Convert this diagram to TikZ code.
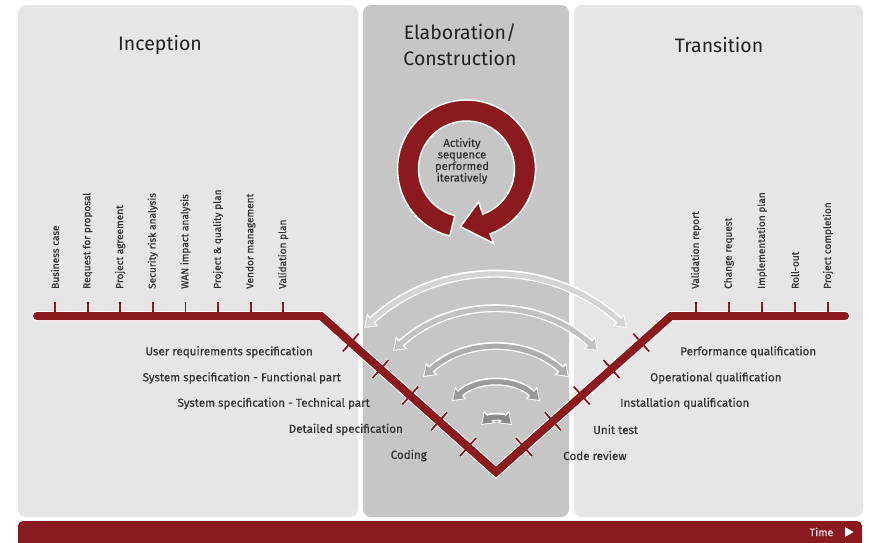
\documentclass[tikz,border=0pt]{standalone}
\usepackage{fontspec}
\setmainfont{Fira Sans}[UprightFeatures={FakeBold=0.4}]
\newfontfamily\titlefont{Fira Sans}
\usetikzlibrary{arrows.meta,calc}
\definecolor{vred}{HTML}{8B1A1E}
\definecolor{panelc}{HTML}{E6E6E6}
\definecolor{midc}{HTML}{C6C6C6}
\definecolor{txt}{HTML}{333333}
\definecolor{titlec}{HTML}{222222}
\definecolor{timec}{HTML}{F2DADA}
\definecolor{arcA}{HTML}{D4D4D4}
\definecolor{arcB}{HTML}{C2C2C2}
\definecolor{arcC}{HTML}{AEAEAE}
\definecolor{arcD}{HTML}{999999}
\definecolor{arcE}{HTML}{8A8A8A}
\begin{document}
\begin{tikzpicture}[x=1pt,y=-1pt,
  panel/.style={fill=panelc, rounded corners=8pt},
  title/.style={text=titlec, font=\titlefont\fontsize{19.5}{26}\selectfont, align=center, inner sep=0pt},
  vlab/.style={text=txt, font=\fontsize{10.1}{11}\selectfont, rotate=90, anchor=west, inner sep=0pt},
  llab/.style={text=txt, font=\fontsize{11.6}{12}\selectfont, anchor=east, inner sep=0pt},
  rlab/.style={text=txt, font=\fontsize{11.6}{12}\selectfont, anchor=west, inner sep=0pt},
  tickw/.style={white, line width=3.5pt},
  tickr/.style={vred, line width=1.8pt},
  arcout/.style={white, line width=8pt, {Triangle[length=12pt,width=16pt]}-{Triangle[length=12pt,width=16pt]}},
  arcin/.style={line width=5pt, shorten <=1.6pt, shorten >=1.6pt, {Triangle[length=9pt,width=12pt]}-{Triangle[length=9pt,width=12pt]}}
]
\clip (0,0) rectangle (869,542);
\fill[white] (0,0) rectangle (869,542);
% panels
\fill[panel] (18,5) rectangle (358,517);
\fill[panel, fill=midc] (363,5) rectangle (569,517);
\fill[panel] (574,5) rectangle (863,517);
% time bar
\fill[vred, rounded corners=5pt] (18,521) rectangle (862,560);
\node[text=timec, font=\fontsize{10.8}{11}\selectfont, inner sep=0pt] (time) at (821.5,532) {Time};
\fill[white] (845,527) -- (853.5,532) -- (845,537) -- cycle;
% titles
\node[title] (inc) at (160,45) {Inception};
\node[title] (elab) at (460,45) {Elaboration/\\Construction};
\node[title] (tra) at (719,45) {Transition};
% iteration ring
\begin{scope}[shift={(466.5,169)}, y=1pt]
  \fill[vred, draw=white, line width=1.5pt, line join=miter]
    (256:69) arc[start angle=256, end angle=-70, radius=69]
    -- (-70:79) -- (-96:58) -- (-70:35) -- (-70:48)
    arc[start angle=-70, end angle=256, radius=48] -- cycle;
\end{scope}
\node[text=txt, font=\fontsize{11.2}{11.6}\selectfont, align=center, inner sep=0pt] (iter) at (462,161)
  {Activity\\sequence\\performed\\iteratively};
% V coordinates
\coordinate (vl) at (37,316);
\coordinate (c1) at (321,316);
\coordinate (vb) at (496,472);
\coordinate (c2) at (671,316);
\coordinate (vr) at (845,316);
% tick coordinates
\foreach \x [count=\i] in {55,87.6,120.2,152.8,185.4,218,250.6,283.2} {
  \coordinate (tl\i) at (\x,316);
  \coordinate (tlt\i) at (\x,302);
}
\foreach \x [count=\i] in {696,729,762,795,828} {
  \coordinate (tr\i) at (\x,316);
  \coordinate (trt\i) at (\x,302);
}
\foreach \t [count=\i] in {0.17,0.34,0.51,0.675,0.84} {
  \coordinate (lv\i) at ($(c1)!\t!(vb)$);
  \coordinate (rv\i) at ($(c2)!\t!(vb)$);
}
\foreach \i in {1,...,5} {
  \draw[tickw] ($(lv\i)!12pt!90:(vb)$) -- ($(lv\i)!12pt!-90:(vb)$);
  \draw[tickw] ($(rv\i)!12pt!90:(vb)$) -- ($(rv\i)!12pt!-90:(vb)$);
}
\draw[white, line width=10pt, line cap=round] (vl) -- (c1) -- (vb) -- (c2) -- (vr);
\foreach \i in {1,...,8} { \draw[tickr] (tl\i) -- (tlt\i); }
\foreach \i in {1,...,5} { \draw[tickr] (tr\i) -- (trt\i); }
\foreach \i in {1,...,5} {
  \draw[tickr] ($(lv\i)!12pt!90:(vb)$) -- ($(lv\i)!12pt!-90:(vb)$);
  \draw[tickr] ($(rv\i)!12pt!90:(vb)$) -- ($(rv\i)!12pt!-90:(vb)$);
}
\draw[vred, line width=8pt, line cap=round] (vl) -- (c1) -- (vb) -- (c2) -- (vr);
% top labels
\node[vlab] (l1) at (55,289) {Business case};
\node[vlab] (l2) at (87.6,289) {Request for proposal};
\node[vlab] (l3) at (120.2,289) {Project agreement};
\node[vlab] (l4) at (152.8,289) {Security risk analysis};
\node[vlab] (l5) at (185.4,289) {WAN impact analysis};
\node[vlab] (l6) at (218,289) {Project \& quality plan};
\node[vlab] (l7) at (250.6,289) {Vendor management};
\node[vlab] (l8) at (283.2,289) {Validation plan};
\node[vlab] (r1) at (696,289) {Validation report};
\node[vlab] (r2) at (729,289) {Change request};
\node[vlab] (r3) at (762,289) {Implementation plan};
\node[vlab] (r4) at (795,289) {Roll-out};
\node[vlab] (r5) at (828,289) {Project completion};
% V labels
\node[llab] (s1) at (313,352) {User requirements specification};
\node[llab] (s2) at (341,378) {System specification - Functional part};
\node[llab] (s3) at (370,403.5) {System specification - Technical part};
\node[llab] (s4) at (403,429.5) {Detailed specification};
\node[llab] (s5) at (427,455.5) {Coding};
\node[rlab] (q1) at (680,352) {Performance qualification};
\node[rlab] (q2) at (650,378) {Operational qualification};
\node[rlab] (q3) at (620,403.5) {Installation qualification};
\node[rlab] (q4) at (593,429.5) {Unit test};
\node[rlab] (q5) at (563,455.5) {Code review};
% correspondence arcs
\coordinate (a1l) at (364,328); \coordinate (a1r) at (627,328);
\coordinate (a2l) at (393,351); \coordinate (a2r) at (598,351);
\coordinate (a3l) at (423,377); \coordinate (a3r) at (569,377);
\coordinate (a4l) at (452,401); \coordinate (a4r) at (540,401);
\coordinate (a5l) at (481,425); \coordinate (a5r) at (512,425);
\foreach \n/\c in {1/arcA,2/arcB,3/arcC,4/arcD,5/arcE} {
  \draw[arcout] (a\n l) to[bend left=43] (a\n r);
  \draw[arcin, \c] (a\n l) to[bend left=43] (a\n r);
}
\end{tikzpicture}
\end{document}
